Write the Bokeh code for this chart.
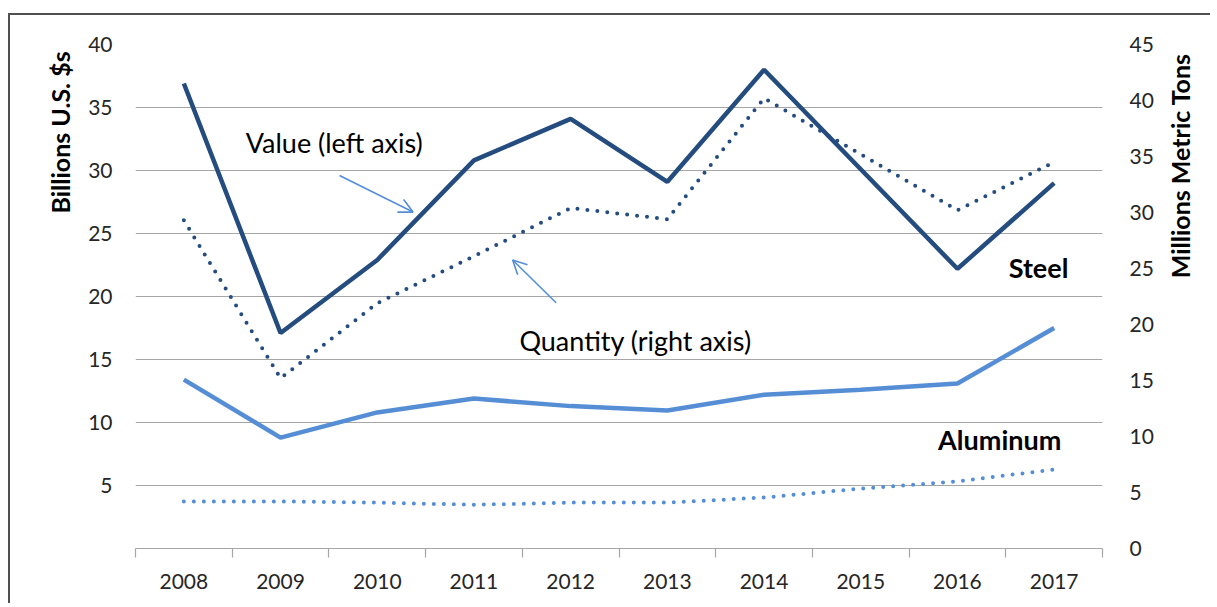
import math
from bokeh.plotting import figure
from bokeh.models import (Range1d, LinearAxis, FixedTicker, Label, Arrow, OpenHead, Grid)
from bokeh.embed import file_html
from bokeh.resources import INLINE

years = [2008, 2009, 2010, 2011, 2012, 2013, 2014, 2015, 2016, 2017]
steel_value = [36.9, 17.1, 22.9, 30.8, 34.1, 29.1, 38.0, 30.1, 22.2, 29.0]      # billions US$ (left)
steel_qty = [29.3, 15.2, 21.9, 26.1, 30.4, 29.4, 40.2, 35.2, 30.2, 34.5]        # million metric tons (right)
alum_value = [13.4, 8.8, 10.8, 11.9, 11.3, 10.95, 12.2, 12.6, 13.1, 17.5]       # billions US$ (left)
alum_qty = [4.2, 4.2, 4.1, 3.9, 4.1, 4.1, 4.55, 5.35, 6.0, 7.05]                # million metric tons (right)

left_ticks = [5, 10, 15, 20, 25, 30, 35, 40]
right_ticks = [0, 5, 10, 15, 20, 25, 30, 35, 40, 45]

left_title = "Billions U.S. $s"
right_title = "Millions Metric Tons"

STEEL = "#244c7e"
ALUM = "#558ed5"
GRID = "#a6a6a6"
TXT = "#262626"
FONT = "Lato"
NBSP = "\u00a0"

W, H = 1202, 590
p = figure(width=W, height=H, output_backend="svg", toolbar_location=None,
           x_range=Range1d(years[0] - 0.5, years[-1] + 0.5),
           y_range=Range1d(0, 40),
           min_border_left=125, min_border_right=105, min_border_top=29, min_border_bottom=57,
           x_axis_location=None, y_axis_location=None)
p.styles = {"border-top": "2px solid #505050", "border-left": "2px solid #505050",
            "margin-top": "13px", "margin-left": "8px"}
p.outline_line_color = None
p.extra_y_ranges = {"qty": Range1d(0, 45)}
# drop the default grids; only horizontal lines at the left-axis ticks are kept
p.center = [r for r in p.center if not isinstance(r, Grid)]

# bottom axis
xax = LinearAxis(ticker=FixedTicker(ticks=years, minor_ticks=[y - 0.5 for y in years] + [years[-1] + 0.5]))
xax.axis_line_color = GRID
xax.axis_line_width = 1.2
xax.major_tick_line_color = None
xax.major_tick_out = 0
xax.major_tick_in = 0
xax.minor_tick_line_color = GRID
xax.minor_tick_line_width = 1.2
xax.minor_tick_out = 9
xax.minor_tick_in = 0
xax.major_label_text_font = FONT
xax.major_label_text_font_size = "21px"
xax.major_label_text_color = TXT
xax.major_label_standoff = 16
p.add_layout(xax, "below")

# left axis (title shifted toward the top by leading non-breaking spaces)
yl = LinearAxis(ticker=FixedTicker(ticks=left_ticks), axis_label=NBSP * 54 + left_title)
yl.axis_line_color = None
yl.major_tick_line_color = None
yl.major_tick_out = 0
yl.major_tick_in = 0
yl.minor_tick_line_color = None
yl.major_label_text_font = FONT
yl.major_label_text_font_size = "21px"
yl.major_label_text_color = TXT
yl.major_label_standoff = 23
yl.axis_label_standoff = 10
yl.axis_label_text_font = FONT
yl.axis_label_text_font_size = "25px"
yl.axis_label_text_font_style = "bold"
yl.axis_label_text_color = "#000000"
p.add_layout(yl, "left")

# right axis
yr = LinearAxis(y_range_name="qty", ticker=FixedTicker(ticks=right_ticks), axis_label=NBSP * 3 + right_title)
yr.axis_line_color = None
yr.major_tick_line_color = None
yr.major_tick_out = 0
yr.major_tick_in = 0
yr.minor_tick_line_color = None
yr.major_label_text_font = FONT
yr.major_label_text_font_size = "21px"
yr.major_label_text_color = TXT
yr.major_label_standoff = 27
yr.axis_label_orientation = math.pi / 2
yr.axis_label_standoff = 23
yr.axis_label_text_font = FONT
yr.axis_label_text_font_size = "25px"
yr.axis_label_text_font_style = "bold"
yr.axis_label_text_color = "#000000"
p.add_layout(yr, "right")

g = Grid(dimension=1, ticker=FixedTicker(ticks=left_ticks), grid_line_color=GRID, grid_line_width=1.2)
p.add_layout(g)

# series
p.line(years, steel_value, line_color=STEEL, line_width=4.5)
p.line(years, steel_qty, y_range_name="qty", line_color=STEEL, line_width=4, line_dash="0 10", line_cap="round")
p.line(years, alum_value, line_color=ALUM, line_width=4.5)
p.line(years, alum_qty, y_range_name="qty", line_color=ALUM, line_width=4, line_dash="0 10", line_cap="round")

# annotations
def lab(x, y, text, bold=False, size="27px"):
    p.add_layout(Label(x=x, y=y, text=text, text_font=FONT, text_font_size=size,
                       text_font_style="bold" if bold else "normal", text_color="#000000",
                       text_baseline="middle"))

lab(2008.64, 32.2, "Value (left axis)")
lab(2011.47, 16.5, "Quantity (right axis)")
lab(2016.53, 22.3, "Steel", bold=True)
lab(2015.80, 8.65, "Aluminum", bold=True)

p.add_layout(Arrow(x_start=2009.61, y_start=29.6, x_end=2010.37, y_end=26.7,
                   line_color=ALUM, line_width=1.6,
                   end=OpenHead(size=14, line_color=ALUM, line_width=1.6)))
p.add_layout(Arrow(x_start=2011.85, y_start=19.5, x_end=2011.40, y_end=22.9,
                   line_color=ALUM, line_width=1.6,
                   end=OpenHead(size=14, line_color=ALUM, line_width=1.6)))

open("out.html", "w").write(file_html(p, INLINE))
